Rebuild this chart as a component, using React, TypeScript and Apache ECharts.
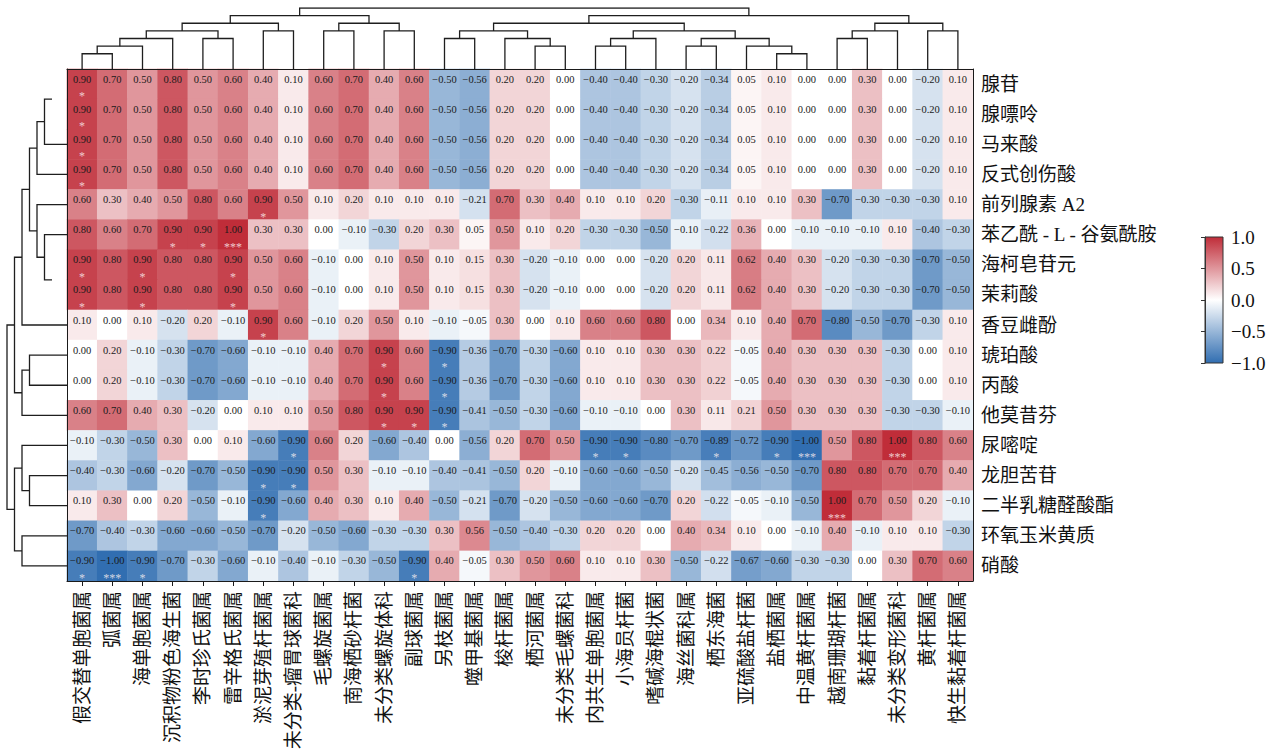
import React, { useEffect, useRef } from 'react';
import * as echarts from 'echarts';

const colNames = [
  '假交替单胞菌属', '弧菌属', '海单胞菌属', '沉积物粉色海生菌', '李时珍氏菌属', '雷辛格氏菌属',
  '淤泥芽殖杆菌属', '未分类-瘤胃球菌科', '毛螺旋菌属', '南海栖砂杆菌', '未分类螺旋体科', '副球菌属',
  '另枝菌属', '噬甲基菌属', '梭杆菌属', '栖河菌属', '未分类毛螺菌科', '内共生单胞菌属',
  '小海员杆菌', '嗜碱海棍状菌', '海丝菌科属', '栖东海菌', '亚硫酸盐杆菌', '盐栖菌属',
  '中温黄杆菌属', '越南珊瑚杆菌', '黏着杆菌属', '未分类变形菌科', '黄杆菌属', '快生黏着杆菌属',
];

const rowNames = [
  '腺苷', '腺嘌呤', '马来酸', '反式创伤酸', '前列腺素 A2', '苯乙酰 - L - 谷氨酰胺', '海柯皂苷元',
  '茉莉酸', '香豆雌酚', '琥珀酸', '丙酸', '他莫昔芬', '尿嘧啶', '龙胆苦苷', '二半乳糖醛酸酯',
  '环氧玉米黄质', '硝酸',
];

const values: number[][] = [
  [0.9, 0.7, 0.5, 0.8, 0.5, 0.6, 0.4, 0.1, 0.6, 0.7, 0.4, 0.6, -0.5, -0.56, 0.2, 0.2, 0.0, -0.4, -0.4, -0.3, -0.2, -0.34, 0.05, 0.1, 0.0, 0.0, 0.3, 0.0, -0.2, 0.1],
  [0.9, 0.7, 0.5, 0.8, 0.5, 0.6, 0.4, 0.1, 0.6, 0.7, 0.4, 0.6, -0.5, -0.56, 0.2, 0.2, 0.0, -0.4, -0.4, -0.3, -0.2, -0.34, 0.05, 0.1, 0.0, 0.0, 0.3, 0.0, -0.2, 0.1],
  [0.9, 0.7, 0.5, 0.8, 0.5, 0.6, 0.4, 0.1, 0.6, 0.7, 0.4, 0.6, -0.5, -0.56, 0.2, 0.2, 0.0, -0.4, -0.4, -0.3, -0.2, -0.34, 0.05, 0.1, 0.0, 0.0, 0.3, 0.0, -0.2, 0.1],
  [0.9, 0.7, 0.5, 0.8, 0.5, 0.6, 0.4, 0.1, 0.6, 0.7, 0.4, 0.6, -0.5, -0.56, 0.2, 0.2, 0.0, -0.4, -0.4, -0.3, -0.2, -0.34, 0.05, 0.1, 0.0, 0.0, 0.3, 0.0, -0.2, 0.1],
  [0.6, 0.3, 0.4, 0.5, 0.8, 0.6, 0.9, 0.5, 0.1, 0.2, 0.1, 0.1, 0.1, -0.21, 0.7, 0.3, 0.4, 0.1, 0.1, 0.2, -0.3, -0.11, 0.1, 0.1, 0.3, -0.7, -0.3, -0.3, -0.3, 0.1],
  [0.8, 0.6, 0.7, 0.9, 0.9, 1.0, 0.3, 0.3, 0.0, -0.1, -0.3, 0.2, 0.3, 0.05, 0.5, 0.1, 0.2, -0.3, -0.3, -0.5, -0.1, -0.22, 0.36, 0.0, -0.1, -0.1, -0.1, 0.1, -0.4, -0.3],
  [0.9, 0.8, 0.9, 0.8, 0.8, 0.9, 0.5, 0.6, -0.1, 0.0, 0.1, 0.5, 0.1, 0.15, 0.3, -0.2, -0.1, 0.0, 0.0, -0.2, 0.2, 0.11, 0.62, 0.4, 0.3, -0.2, -0.3, -0.3, -0.7, -0.5],
  [0.9, 0.8, 0.9, 0.8, 0.8, 0.9, 0.5, 0.6, -0.1, 0.0, 0.1, 0.5, 0.1, 0.15, 0.3, -0.2, -0.1, 0.0, 0.0, -0.2, 0.2, 0.11, 0.62, 0.4, 0.3, -0.2, -0.3, -0.3, -0.7, -0.5],
  [0.1, 0.0, 0.1, -0.2, 0.2, -0.1, 0.9, 0.6, -0.1, 0.2, 0.5, 0.1, -0.1, -0.05, 0.3, 0.0, 0.1, 0.6, 0.6, 0.8, 0.0, 0.34, 0.1, 0.4, 0.7, -0.8, -0.5, -0.7, -0.3, 0.1],
  [0.0, 0.2, -0.1, -0.3, -0.7, -0.6, -0.1, -0.1, 0.4, 0.7, 0.9, 0.6, -0.9, -0.36, -0.7, -0.3, -0.6, 0.1, 0.1, 0.3, 0.3, 0.22, -0.05, 0.4, 0.3, 0.3, 0.3, -0.3, 0.0, 0.1],
  [0.0, 0.2, -0.1, -0.3, -0.7, -0.6, -0.1, -0.1, 0.4, 0.7, 0.9, 0.6, -0.9, -0.36, -0.7, -0.3, -0.6, 0.1, 0.1, 0.3, 0.3, 0.22, -0.05, 0.4, 0.3, 0.3, 0.3, -0.3, 0.0, 0.1],
  [0.6, 0.7, 0.4, 0.3, -0.2, 0.0, 0.1, 0.1, 0.5, 0.8, 0.9, 0.9, -0.9, -0.41, -0.5, -0.3, -0.6, -0.1, -0.1, 0.0, 0.3, 0.11, 0.21, 0.5, 0.3, 0.3, 0.3, -0.3, -0.3, -0.1],
  [-0.1, -0.3, -0.5, 0.3, 0.0, 0.1, -0.6, -0.9, 0.6, 0.2, -0.6, -0.4, 0.0, -0.56, 0.2, 0.7, 0.5, -0.9, -0.9, -0.8, -0.7, -0.89, -0.72, -0.9, -1.0, 0.5, 0.8, 1.0, 0.8, 0.6],
  [-0.4, -0.3, -0.6, -0.2, -0.7, -0.5, -0.9, -0.9, 0.5, 0.3, -0.1, -0.1, -0.4, -0.41, -0.5, 0.2, -0.1, -0.6, -0.6, -0.5, -0.2, -0.45, -0.56, -0.5, -0.7, 0.8, 0.8, 0.7, 0.7, 0.4],
  [0.1, 0.3, 0.0, 0.2, -0.5, -0.1, -0.9, -0.6, 0.4, 0.3, 0.1, 0.4, -0.5, -0.21, -0.7, -0.2, -0.5, -0.6, -0.6, -0.7, 0.2, -0.22, -0.05, -0.1, -0.5, 1.0, 0.7, 0.5, 0.2, -0.1],
  [-0.7, -0.4, -0.3, -0.6, -0.6, -0.5, -0.7, -0.2, -0.5, -0.6, -0.3, -0.3, 0.3, 0.56, -0.5, -0.4, -0.3, 0.2, 0.2, 0.0, 0.4, 0.34, 0.1, 0.0, -0.1, 0.4, -0.1, 0.1, 0.1, -0.3],
  [-0.9, -1.0, -0.9, -0.7, -0.3, -0.6, -0.1, -0.4, -0.1, -0.3, -0.5, -0.9, 0.4, -0.05, 0.3, 0.5, 0.6, 0.1, 0.1, 0.3, -0.5, -0.22, -0.67, -0.6, -0.3, -0.3, 0.0, 0.3, 0.7, 0.6],
];

// [row, col, significance]
const starCells: [number, number, string][] = [
  [0, 0, '*'], [1, 0, '*'], [2, 0, '*'], [3, 0, '*'],
  [4, 6, '*'],
  [5, 3, '*'], [5, 4, '*'], [5, 5, '***'],
  [6, 0, '*'], [6, 2, '*'], [6, 5, '*'],
  [7, 0, '*'], [7, 2, '*'], [7, 5, '*'],
  [8, 6, '*'],
  [9, 10, '*'], [9, 12, '*'],
  [10, 10, '*'], [10, 12, '*'],
  [11, 10, '*'], [11, 11, '*'], [11, 12, '*'],
  [12, 7, '*'], [12, 17, '*'], [12, 18, '*'], [12, 21, '*'], [12, 23, '*'], [12, 24, '***'], [12, 27, '***'],
  [13, 6, '*'], [13, 7, '*'],
  [14, 6, '*'], [14, 25, '***'],
  [16, 0, '*'], [16, 1, '***'], [16, 2, '*'], [16, 11, '*'],
];

// hclust-style merges: negative = leaf (1-based), positive = earlier merge; third = height level
const colMerge: number[][] = [
  [-1, -2, 2], [1, -3, 3], [2, -4, 4], [-5, -6, 4], [3, 4, 5], [-7, -8, 5], [5, 6, 6],
  [-9, -10, 5], [-11, -12, 5], [8, 9, 6], [7, 10, 7],
  [-13, -14, 4], [-16, -17, 3], [-15, 13, 4], [12, 14, 5],
  [-18, -19, 3], [16, -20, 4], [-21, -22, 3], [-24, -25, 2], [-23, 19, 3], [18, 20, 4], [17, 21, 5],
  [15, 22, 6], [-26, -27, 4], [24, -28, 5], [-29, -30, 5], [25, 26, 6], [23, 27, 7], [11, 28, 8],
];

const rowMerge: number[][] = [
  [-1, -2, 2], [1, -3, 3], [2, -4, 4], [-7, -8, 2], [-6, 4, 3], [-5, 5, 4], [3, 6, 5],
  [7, -9, 6], [-10, -11, 5], [9, -12, 6], [8, 10, 7],
  [-14, -15, 5], [-13, 12, 6], [-16, -17, 6], [13, 14, 7], [11, 15, 8],
];
const rowMergeHidden = [1, 4];

const colorLow = '#316EB1';
const colorMid = '#FFFFFF';
const colorHigh = '#C02D39';

const serif = "'Liberation Serif', 'Times New Roman', 'Noto Sans CJK SC', serif";
const fmt = (v: number, d: number) => v.toFixed(d).replace('-', '−');

function dendroSegments(merge: number[][], hidden: number[] = []) {
  const pos: { x: number; h: number }[] = [];
  const get = (k: number) => (k < 0 ? { x: -k - 0.5, h: 0 } : pos[k - 1]);
  const out: number[][][] = [];
  merge.forEach(([a, b, h], i) => {
    const A = get(a);
    const B = get(b);
    pos.push({ x: (A.x + B.x) / 2, h });
    if (!hidden.includes(i + 1)) {
      out.push([[A.x, A.h], [A.x, h], [B.x, h], [B.x, B.h]]);
    }
  });
  return out;
}

export default function App() {
  const ref = useRef<HTMLDivElement>(null);
  useEffect(() => {
    if (!ref.current) return;
    const chart = echarts.init(ref.current, null, { renderer: 'svg' });

    const heatData: number[][] = [];
    values.forEach((row, r) => row.forEach((v, c) => heatData.push([c, r, v])));
    const starData = starCells.map(([r, c, s]) => [c, r, s]);

    const topSeg = dendroSegments(colMerge);
    const leftSeg = dendroSegments(rowMerge, rowMergeHidden).map((poly) => poly.map(([x, h]) => [h, x]));

    const G = { left: 67, top: 69, width: 906, height: 512 };
    const axisColor = '#1a1a1a';
    const dendroLine = { color: '#1e1e1e', width: 1.3, opacity: 1 };

    chart.setOption({
      animation: false,
      backgroundColor: '#ffffff',
      grid: [
        { ...G },
        { left: G.left, top: 8, width: G.width, height: G.top - 8 },
        { left: 7, top: G.top, width: G.left - 7, height: G.height },
        {
          left: 1205, top: 237, width: 18, height: 126, show: true,
          borderColor: '#333', borderWidth: 1,
          backgroundColor: new echarts.graphic.LinearGradient(0, 0, 0, 1, [
            { offset: 0, color: colorHigh },
            { offset: 0.5, color: colorMid },
            { offset: 1, color: colorLow },
          ]),
        },
      ],
      xAxis: [
        {
          gridIndex: 0, type: 'category', data: colNames, position: 'bottom', z: 5,
          axisLine: { show: true, lineStyle: { color: axisColor, width: 1 } },
          axisTick: { show: true, alignWithLabel: true, length: 5, lineStyle: { color: axisColor } },
          axisLabel: { rotate: 90, interval: 0, margin: 10, fontSize: 19, color: '#111', fontFamily: serif },
          splitLine: { show: false },
        },
        {
          gridIndex: 0, type: 'category', data: colNames, position: 'top', z: 5,
          axisLine: { show: true, lineStyle: { color: axisColor, width: 1 } },
          axisTick: { show: false }, axisLabel: { show: false },
        },
        { gridIndex: 1, type: 'value', min: 0, max: colNames.length, show: false },
        { gridIndex: 2, type: 'value', min: 0, max: 8, inverse: true, show: false },
        { gridIndex: 3, type: 'value', min: 0, max: 1, show: false },
      ],
      yAxis: [
        {
          gridIndex: 0, type: 'category', data: rowNames, inverse: true, position: 'right', z: 5,
          axisLine: { show: true, lineStyle: { color: axisColor, width: 1 } },
          axisTick: { show: false },
          axisLabel: { interval: 0, margin: 8, fontSize: 19, color: '#111', fontFamily: serif },
        },
        {
          gridIndex: 0, type: 'category', data: rowNames, inverse: true, position: 'left', z: 5,
          axisLine: { show: true, lineStyle: { color: axisColor, width: 1 } },
          axisTick: { show: false }, axisLabel: { show: false },
        },
        { gridIndex: 1, type: 'value', min: 0, max: 8, show: false },
        { gridIndex: 2, type: 'value', min: 0, max: rowNames.length, inverse: true, show: false },
        {
          gridIndex: 3, type: 'value', min: -1, max: 1, interval: 0.5, position: 'right',
          axisLine: { show: true, lineStyle: { color: '#333' } },
          axisTick: { show: true, inside: true, length: 4, lineStyle: { color: '#333' } },
          splitLine: { show: false },
          axisLabel: { margin: 8, fontSize: 19, color: '#111', fontFamily: serif, formatter: (v: number) => fmt(v, 1) },
        },
      ],
      visualMap: {
        type: 'continuous', min: -1, max: 1, show: false, seriesIndex: 0, dimension: 2,
        inRange: { color: [colorLow, colorMid, colorHigh] },
      },
      series: [
        {
          type: 'heatmap', xAxisIndex: 0, yAxisIndex: 0, data: heatData,
          label: {
            show: true, fontSize: 10.5, color: '#1a1a1a', fontFamily: serif, offset: [0, -5],
            formatter: (p: any) => fmt(p.value[2], 2),
          },
          itemStyle: { borderWidth: 0 },
          emphasis: { disabled: true },
        },
        {
          type: 'scatter', xAxisIndex: 0, yAxisIndex: 0, data: starData, z: 4,
          symbolSize: 1, itemStyle: { color: 'rgba(0,0,0,0)' },
          label: {
            show: true, position: 'inside', offset: [0, 12], fontSize: 12, color: '#fbf0f0',
            fontFamily: serif, formatter: (p: any) => p.value[2],
          },
          emphasis: { disabled: true },
        },
        {
          type: 'lines', coordinateSystem: 'cartesian2d', xAxisIndex: 2, yAxisIndex: 2, polyline: true,
          data: topSeg.map((c) => ({ coords: c })), lineStyle: dendroLine, silent: true,
        },
        {
          type: 'lines', coordinateSystem: 'cartesian2d', xAxisIndex: 3, yAxisIndex: 3, polyline: true,
          data: leftSeg.map((c) => ({ coords: c })), lineStyle: dendroLine, silent: true,
        },
      ],
    });
    return () => chart.dispose();
  }, []);
  return <div ref={ref} style={{ position: 'fixed', left: 0, top: 0, width: 1277, height: 755 }} />;
}
